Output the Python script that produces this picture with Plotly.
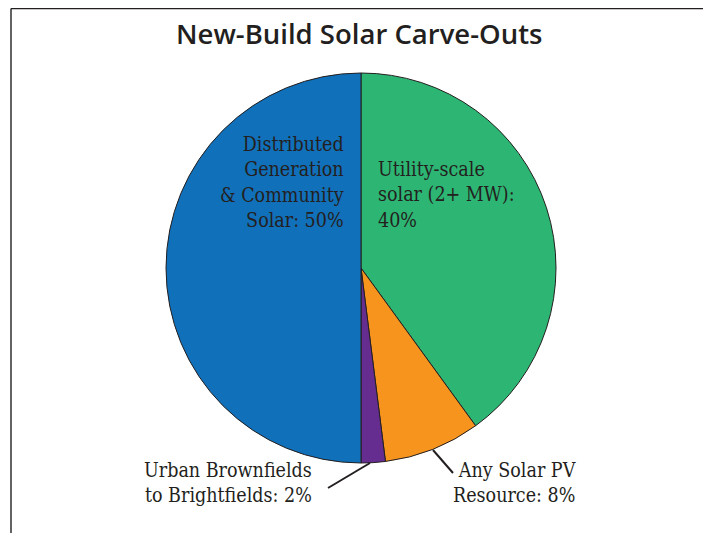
import plotly.graph_objects as go

categories = ["Utility-scale solar (2+ MW)", "Any Solar PV Resource",
              "Urban Brownfields to Brightfields", "Distributed Generation & Community Solar"]
values = [40, 8, 2, 50]
colors = ["#2DB673", "#F7941E", "#662D91", "#1170BA"]
label_texts = ["Utility-scale<br>solar (2+ MW):<br>40%",
               "Any Solar PV<br>Resource: 8%",
               "Urban Brownfields<br>to Brightfields: 2%",
               "Distributed<br>Generation<br>& Community<br>Solar: 50%"]
title_text = "New-Build Solar Carve-Outs"

# page body has an 8px margin; figure fills the rest of the 711x533 window
OFF = 8
W, H = 711 - OFF, 533 - OFF
def px(x): return (x - OFF) / W
def py(y): return 1 - (y - OFF) / H

fig = go.Figure(go.Pie(
    labels=categories, values=values, sort=False, direction="clockwise", rotation=0,
    marker=dict(colors=colors, line=dict(color="#231F20", width=1)),
    textinfo="none", hoverinfo="label+percent", showlegend=False,
    domain=dict(x=[px(166), px(556)], y=[py(463), py(73)]),
))

font = dict(family="DejaVu Serif Condensed, DejaVu Serif, Liberation Serif, serif",
            size=19.5, color="#231F20")
ann = [
    dict(x=px(376), y=py(195), text=label_texts[0], xanchor="left", align="left"),
    dict(x=px(578), y=py(483), text=label_texts[1], xanchor="right", align="right"),
    dict(x=px(314), y=py(483), text=label_texts[2], xanchor="right", align="right"),
    dict(x=px(346), y=py(183), text=label_texts[3], xanchor="right", align="right"),
]
annotations = [dict(xref="paper", yref="paper", yanchor="middle", showarrow=False, font=font, **a) for a in ann]
annotations.append(dict(xref="paper", yref="paper", x=px(359), y=py(33), text=title_text,
                        showarrow=False, xanchor="center", yanchor="middle",
                        font=dict(family="Open Sans, Roboto, sans-serif", size=27.5,
                                  color="#231F20", weight=600)))

bc = "#231F20"
shapes = [
    dict(type="line", xref="paper", yref="paper", x0=px(11), x1=px(11), y0=py(8.6), y1=-0.05,
         line=dict(color=bc, width=1.4)),
    dict(type="line", xref="paper", yref="paper", x0=px(707), x1=px(707), y0=py(8.6), y1=-0.05,
         line=dict(color=bc, width=1.4)),
    dict(type="line", xref="paper", yref="paper", x0=px(11), x1=px(707), y0=py(8.6), y1=py(8.6),
         line=dict(color=bc, width=1.4)),
    dict(type="line", xref="paper", yref="paper", x0=px(370), x1=px(328), y0=py(463), y1=py(488),
         line=dict(color=bc, width=2)),
    dict(type="line", xref="paper", yref="paper", x0=px(433), x1=px(453), y0=py(450), y1=py(473),
         line=dict(color=bc, width=2)),
]

fig.update_layout(width=W, height=H, margin=dict(l=0, r=0, t=0, b=0),
                  paper_bgcolor="white", plot_bgcolor="white",
                  annotations=annotations, shapes=shapes)
fig.write_html("out.html")
